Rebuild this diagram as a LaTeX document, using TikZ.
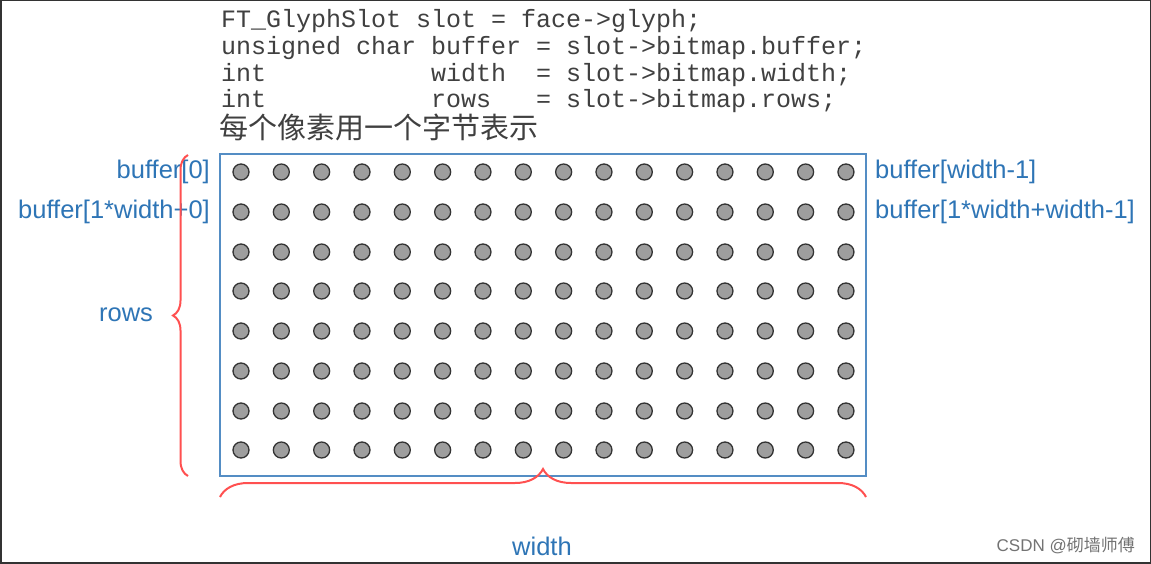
\documentclass[tikz,border=0pt]{standalone}
\usepackage{fontspec}
\setmainfont{Liberation Sans}
\setmonofont{Liberation Mono}
\newfontfamily\cjk{Noto Sans CJK SC}
\usetikzlibrary{positioning,decorations.pathreplacing}
\definecolor{lblblue}{RGB}{46,117,182}
\definecolor{boxblue}{RGB}{84,141,196}
\definecolor{bracered}{RGB}{255,80,80}
\tikzstyle{codeline} = [anchor=west, inner sep=0pt, font=\fontsize{25}{26}\ttfamily, text=black!75]
\tikzstyle{bufflabel} = [inner sep=0pt, font=\fontsize{25.5}{27}\selectfont, text=lblblue]
\tikzstyle{pixel} = [circle, draw=black!80, fill=black!38, line width=1.3pt, minimum size=16pt, inner sep=0pt]
\tikzstyle{bracket} = [draw=bracered, line width=2pt, decorate]
\begin{document}
\begin{tikzpicture}[x=1pt,y=-1pt]
	\useasboundingbox (0,0) rectangle (1151,564);
	\fill[white] (0,0) rectangle (1151,564);
	\draw[black!80, line width=3pt] (0,0) rectangle (1151,563);
	% code on top
	\node[codeline](c_1) at (221,21){FT\_GlyphSlot slot = face->glyph;};
	\node[codeline](c_2) at (221,48){unsigned char buffer = slot->bitmap.buffer;};
	\node[codeline](c_3) at (221,75){int\ \ \ \ \ \ \ \ \ \ \ width\ \ = slot->bitmap.width;};
	\node[codeline](c_4) at (221,101){int\ \ \ \ \ \ \ \ \ \ \ rows\ \ \ = slot->bitmap.rows;};
	\node[codeline, font=\fontsize{29}{30}\cjk](c_5) at (219,127){每个像素用一个字节表示};
	% grid of pixels
	\node[draw=boxblue, line width=1.6pt, minimum width=646pt, minimum height=322pt, inner sep=0pt](grid) at (543,315){};
	\foreach \r/\y in {1/172,2/212,3/252,4/291,5/331,6/371,7/411,8/450}
		\foreach \c in {0,...,15}
			\node[pixel](p_\r_\c) at ({241+40.33*\c},\y){};
	\node[bufflabel, anchor=east](l_1) at (210,172){buffer[0]};
	\node[bufflabel, anchor=east](l_2) at (210,212){buffer[1*width+0]};
	\node[bufflabel, anchor=west](r_1) at (875,172){buffer[width-1]};
	\node[bufflabel, anchor=west](r_2) at (875,212){buffer[1*width+width-1]};
	% braces
	\coordinate (rtop) at (188,155);
	\coordinate (rbot) at (188,476);
	\coordinate (wl) at (220,497);
	\coordinate (wr) at (866,497);
	\draw[bracket, decoration={brace, amplitude=15pt}] (rbot) -- (rtop);
	\draw[bracket, decoration={brace, amplitude=28pt, aspect=0.5}] (wl) -- (wr);
	\node[bufflabel](rows) at (126,315){rows};
	\node[bufflabel](width) at (542,546){width};
	\node[inner sep=0pt, anchor=east, text=black!55, font=\fontsize{17}{18}\selectfont](mark) at (1135,546){CSDN @{\cjk 砌墙师傅}};
\end{tikzpicture}
\end{document}
